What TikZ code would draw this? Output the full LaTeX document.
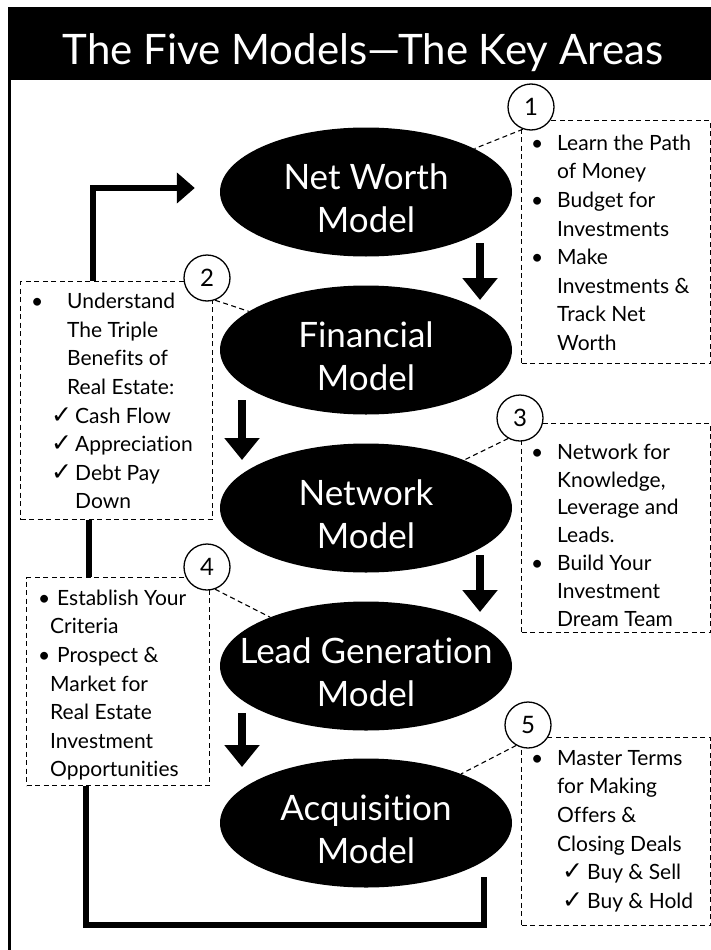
\documentclass[tikz,border=0pt]{standalone}
\usepackage{fontspec}
\setmainfont{Lato}[Ligatures=NoCommon]
\newfontfamily\symfont{DejaVu Sans}
\usetikzlibrary{arrows.meta,calc,shapes.geometric}
\newcommand\ck{{\symfont\fontsize{25}{25}\selectfont ✓}}
\newcommand\fl{\rule{0pt}{20pt}}
\newcommand\ml{\rule{0pt}{30pt}}
\begin{document}
\begin{tikzpicture}[x=1pt,y=-1pt,
  model/.style={ellipse,fill=black,minimum width=292pt,minimum height=129pt,inner sep=0pt},
  modeltext/.style={anchor=north,text=white,font=\fontsize{35}{43}\selectfont,align=center,inner sep=0pt},
  notebox/.style={draw,dash pattern=on 5pt off 3.5pt,line width=1.2pt,anchor=north west,inner sep=0pt},
  notetext/.style={anchor=north west,inner sep=0pt,align=left,font=\fontsize{21}{28.6}\selectfont},
  numcirc/.style={circle,draw,fill=white,line width=1.3pt,minimum size=46pt,inner sep=0pt,font=\fontsize{24}{24}\selectfont},
  link/.style={dash pattern=on 5pt off 3.5pt,line width=1.1pt},
  downarrow/.style={line width=8pt,-{Triangle[width=34pt,length=22pt]}},
  loopline/.style={line width=6pt,line join=miter}
]
\useasboundingbox (0,0) rectangle (711,950);
% frame and header
\fill[black] (8,7) rectangle (730,80);
\draw[line width=2.5pt] (9.5,79) -- (9.5,960);
\node[text=white,font=\fontsize{42}{42}\selectfont,anchor=base,inner sep=0pt] (title) at (363,65) {The Five Models—The Key Areas};

% note boxes
\node[notebox,minimum width=189pt,minimum height=243pt] (b1) at (521,120) {};
\node[notebox,minimum width=192pt,minimum height=238pt] (b2) at (20,281) {};
\node[notebox,minimum width=189pt,minimum height=209pt] (b3) at (521,423) {};
\node[notebox,minimum width=183pt,minimum height=208pt] (b4) at (26,577) {};
\node[notebox,minimum width=189pt,minimum height=188pt] (b5) at (521,737) {};

% note texts
\node[notetext] (t1) at (531,130) {\fl\makebox[26pt][l]{\textbullet}Learn the Path\\
\hspace*{26pt}of Money\\
\makebox[26pt][l]{\textbullet}Budget for\\
\hspace*{26pt}Investments\\
\makebox[26pt][l]{\textbullet}Make\\
\hspace*{26pt}Investments \&\\
\hspace*{26pt}Track Net\\
\hspace*{26pt}Worth};
\node[notetext] (t2) at (31,288.5) {\fl\makebox[36pt][l]{\textbullet}Understand\\
\hspace*{36pt}The Triple\\
\hspace*{36pt}Benefits of\\
\hspace*{36pt}Real Estate:\\
\hspace*{20pt}\makebox[24pt][l]{\ck}Cash Flow\\
\hspace*{20pt}\makebox[24pt][l]{\ck}Appreciation\\
\hspace*{20pt}\makebox[24pt][l]{\ck}Debt Pay\\
\hspace*{44pt}Down};
\node[notetext,font=\fontsize{21}{27.8}\selectfont] (t3) at (531,439) {\fl\makebox[26pt][l]{\textbullet}Network for\\
\hspace*{26pt}Knowledge,\\
\hspace*{26pt}Leverage and\\
\hspace*{26pt}Leads.\\
\makebox[26pt][l]{\textbullet}Build Your\\
\hspace*{26pt}Investment\\
\hspace*{26pt}Dream Team};
\node[notetext] (t4) at (38,585) {\fl\makebox[19pt][l]{\textbullet}Establish Your\\
\hspace*{12pt}Criteria\\
\makebox[19pt][l]{\textbullet}Prospect \&\\
\hspace*{12pt}Market for\\
\hspace*{12pt}Real Estate\\
\hspace*{12pt}Investment\\
\hspace*{12pt}Opportunities};
\node[notetext] (t5) at (531,745) {\fl\makebox[26pt][l]{\textbullet}Master Terms\\
\hspace*{26pt}for Making\\
\hspace*{26pt}Offers \&\\
\hspace*{26pt}Closing Deals\\
\hspace*{31pt}\makebox[25pt][l]{\ck}Buy \& Sell\\
\hspace*{31pt}\makebox[25pt][l]{\ck}Buy \& Hold};

% models
\node[model] (nw) at (366,192) {};
\node[model] (fin) at (366,350) {};
\node[model] (net) at (366,508) {};
\node[model] (lg) at (366,666) {};
\node[model] (acq) at (366,823) {};
\node[modeltext] (nwt) at ($(nw)+(0,-33)$) {\ml Net Worth\\Model};
\node[modeltext] (fint) at ($(fin)+(0,-33)$) {\ml Financial\\Model};
\node[modeltext] (nett) at ($(net)+(0,-33)$) {\ml Network\\Model};
\node[modeltext] (lgt) at ($(lg)+(0,-33)$) {\ml Lead Generation\\Model};
\node[modeltext] (acqt) at ($(acq)+(0,-33)$) {\ml Acquisition\\Model};

% number circles
\node[numcirc] (c1) at (531,107) {1};
\node[numcirc] (c2) at (207,278) {2};
\node[numcirc] (c3) at (520,418) {3};
\node[numcirc] (c4) at (207,567) {4};
\node[numcirc] (c5) at (528,725) {5};

% dashed links
\draw[link] (c1.-110) -- (nw);
\draw[link] (c2.-70) -- (fin);
\draw[link] (c3.-120) -- (net);
\draw[link] (c4.-70) -- (lg);
\draw[link] (c5.-120) -- (acq);

% down arrows
\draw[downarrow] ($(nw)+(114,51)$) -- ($(fin)+(114,-50)$);
\draw[downarrow] ($(fin)+(-124,50)$) -- ($(net)+(-124,-48)$);
\draw[downarrow] ($(net)+(114,47)$) -- ($(lg)+(114,-54)$);
\draw[downarrow] ($(lg)+(-124,47)$) -- ($(acq)+(-124,-56)$);

% feedback loop
\draw[loopline] ($(acq)+(118,54)$) -- ($(acq)+(118,102)$) -| ($(b4.south west)+(60,0)$);
\draw[loopline] ($(b4.north west)+(63,0)$) -- ($(b2.south west)+(69,0)$);
\draw[loopline,-{Triangle[width=30pt,length=18pt]}] ($(b2.north west)+(73,0)$) |- ($(nw.west)+(-25,-4)$);
\end{tikzpicture}
\end{document}
